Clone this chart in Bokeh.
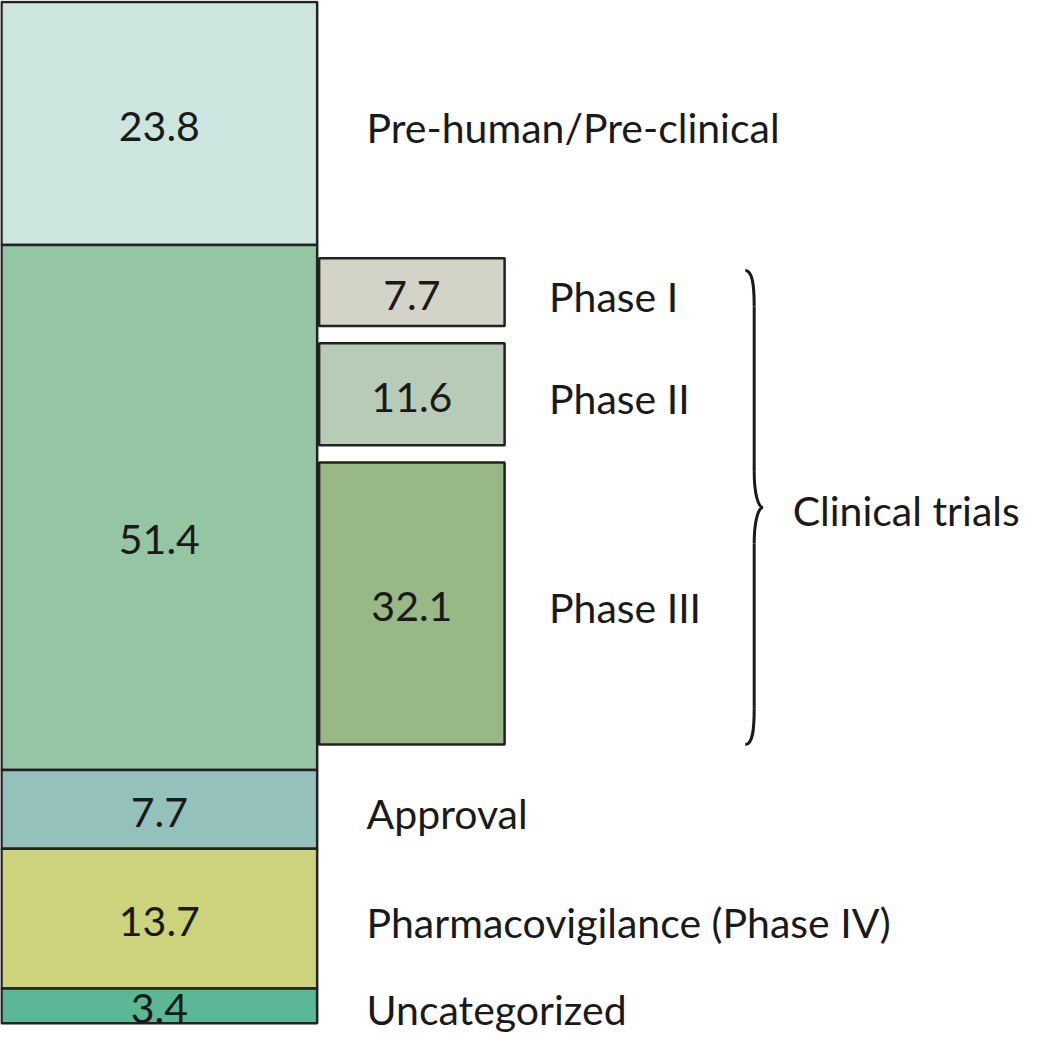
import numpy as np
from bokeh.plotting import figure
from bokeh.models import Range1d, ColumnDataSource
from bokeh.core.properties import value
from bokeh.embed import file_html
from bokeh.resources import INLINE

# ---------------- data ----------------
stages = ["Pre-human/Pre-clinical", "", "Approval",
          "Pharmacovigilance (Phase IV)", "Uncategorized"]
stage_values = [23.8, 51.4, 7.7, 13.7, 3.4]
stage_colors = ["#cde5df", "#95c6a4", "#94c1bb", "#cdd27c", "#5bb795"]

phases = ["Phase I", "Phase II", "Phase III"]
phase_values = [7.7, 11.6, 32.1]
phase_colors = ["#d3d4c7", "#b8cbb7", "#98b886"]

group_label = "Clinical trials"

# ---------------- layout ----------------
FONT = "Lato"
FS = "41px"
COL_L, COL_R = 3, 323
PH_L, PH_R = 325, 513
LBL_X = 373
PH_LBL_X = 558
CT_X = 805
PHASE_SCALE = 0.86
PHASE_GAP = 1.7
PHASE_OFFSET = 1.3

sv = np.array(stage_values)
s_bottom = np.cumsum(sv)
s_top = s_bottom - sv
s_mid = (s_top + s_bottom) / 2
s_label_y = s_mid.copy()
s_label_y[1] += 2.8

stage_src = ColumnDataSource(dict(
    left=[COL_L] * len(sv), right=[COL_R] * len(sv),
    top=s_top, bottom=s_bottom, color=stage_colors,
    vx=[(COL_L + COL_R) / 2] * len(sv), vy=s_label_y,
    vtxt=[f"{v:.1f}" for v in sv],
    lx=[LBL_X] * len(sv), ly=s_mid, ltxt=stages))

pv = np.array(phase_values) * PHASE_SCALE
p_top = []
cur = s_top[1] + PHASE_OFFSET
for h in pv:
    p_top.append(cur)
    cur += h + PHASE_GAP
p_top = np.array(p_top)
p_bottom = p_top + pv
p_mid = (p_top + p_bottom) / 2

phase_src = ColumnDataSource(dict(
    left=[PH_L] * 3, right=[PH_R] * 3, top=p_top, bottom=p_bottom,
    color=phase_colors, vx=[(PH_L + PH_R) / 2] * 3, vy=p_mid,
    vtxt=[f"{v:.1f}" for v in phase_values],
    lx=[PH_LBL_X] * 3, ly=p_mid, ltxt=phases))

p = figure(width=1024, height=1033, output_backend="svg", toolbar_location=None,
           x_range=Range1d(2, 1040), y_range=Range1d(101.0, -0.15),
           min_border=0)
p.axis.visible = False
p.grid.visible = False
p.outline_line_color = None
p.background_fill_color = "white"

for src in (stage_src, phase_src):
    p.quad(left="left", right="right", top="top", bottom="bottom", source=src,
           fill_color="color", line_color="#222222", line_width=2.5)
    p.text(x="vx", y="vy", text="vtxt", source=src, text_align="center",
           text_baseline="middle", text_font=value(FONT), text_font_size=FS,
           text_color="#1a1a1a", y_offset=3)
    p.text(x="lx", y="ly", text="ltxt", source=src, text_align="left",
           text_baseline="middle", text_font=value(FONT), text_font_size=FS,
           text_color="#1a1a1a", y_offset=4)

# brace
y0 = p_top[0] + 1.2
y1 = p_bottom[-1]
ym = (y0 + y1) / 2
d = 3.5
xe, xs, xt = 757, 766, 775
p.bezier(x0=[xe, xs, xt, xs], y0=[y0, ym - d, ym, y1 - d],
         x1=[xs, xt, xs, xe], y1=[y0 + d, ym, ym + d, y1],
         cx0=[765, xs, 770, xs], cy0=[y0, ym - 0.4 * d, ym, y1 - 0.5 * d],
         cx1=[xs, 770, xs, 765], cy1=[y0 + 0.5 * d, ym, ym + 0.4 * d, y1],
         line_color="#1a1a1a", line_width=3)
p.segment(x0=[xs, xs], y0=[y0 + d, ym + d], x1=[xs, xs], y1=[ym - d, y1 - d],
          line_color="#1a1a1a", line_width=3)
p.text(x=[CT_X], y=[ym], text=[group_label], text_align="left",
       text_baseline="middle", text_font=value(FONT), text_font_size=FS,
       text_color="#1a1a1a", y_offset=3)

open("out.html", "w").write(file_html(p, INLINE))
